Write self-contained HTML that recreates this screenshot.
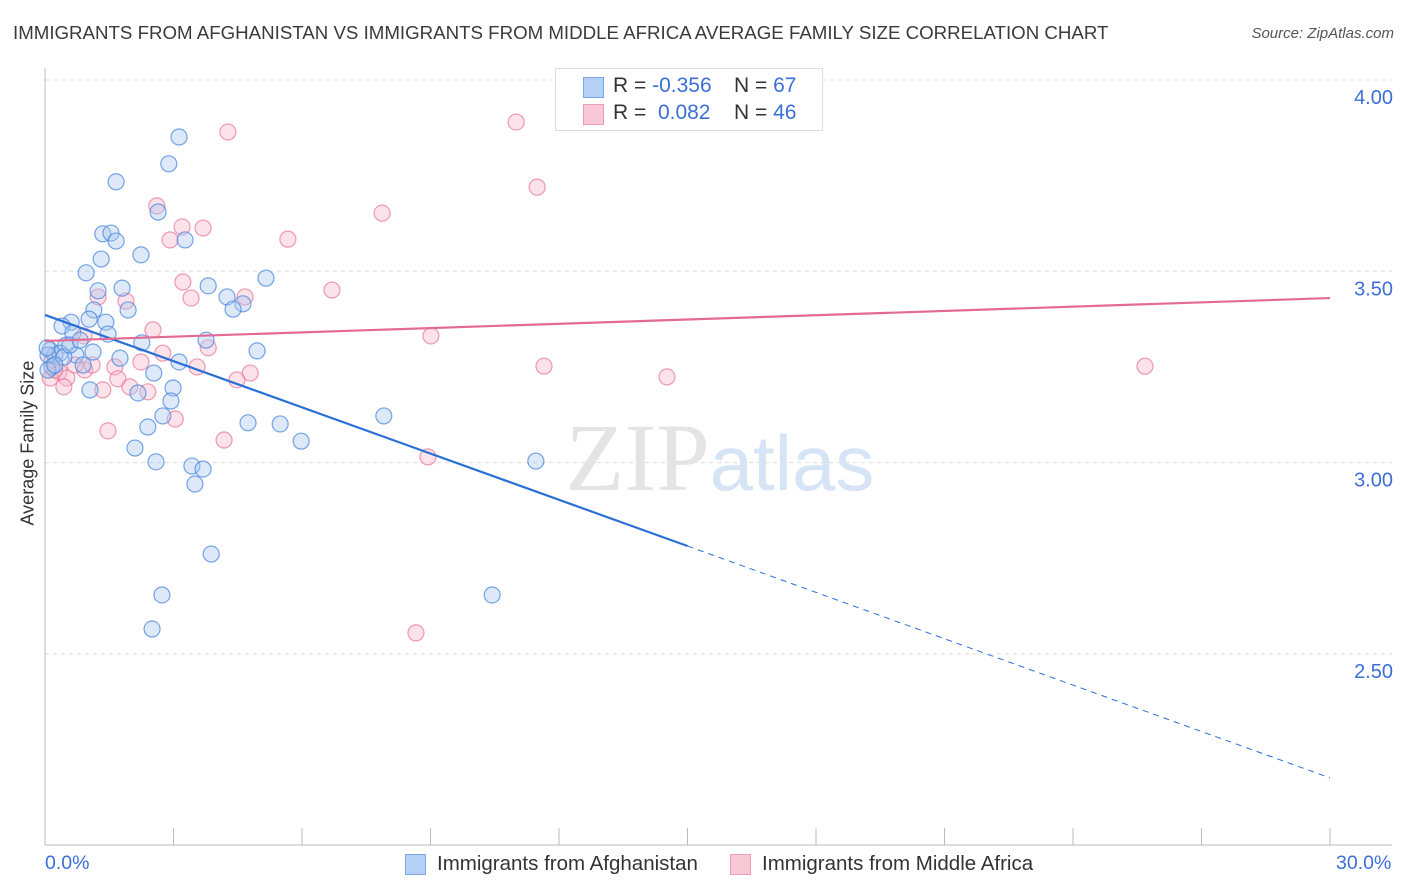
<!DOCTYPE html>
<html><head><meta charset="utf-8"><style>
body{margin:0;background:#fff;font-family:"Liberation Sans",sans-serif}
#wrap{position:relative;width:1406px;height:892px;overflow:hidden}
.t{position:absolute;white-space:nowrap}
</style></head><body><div id="wrap">
<div class="t" style="left:13px;top:22px;font-size:18.7px;color:#3a3a3a">IMMIGRANTS FROM AFGHANISTAN VS IMMIGRANTS FROM MIDDLE AFRICA AVERAGE FAMILY SIZE CORRELATION CHART</div>
<div class="t" style="right:12px;top:25px;font-size:15px;color:#555;font-style:italic">Source: ZipAtlas.com</div>
<svg id="svg" width="1406" height="892" style="position:absolute;left:0;top:0"></svg>
</div>
<script>
const blueX=[3.13,2.89,1.66,2.64,1.35,1.54,1.66,3.27,2.24,1.31,0.96,5.16,1.24,1.80,3.81,4.25,4.62,4.39,1.94,1.14,0.61,1.03,0.40,1.42,0.65,1.47,0.49,3.76,0.12,0.23,0.35,0.72,0.44,1.12,4.95,2.26,1.75,3.13,0.89,0.16,2.54,2.99,1.05,2.17,2.94,2.75,4.74,5.49,7.91,2.40,5.98,2.10,2.59,3.43,3.69,3.50,11.46,3.88,2.73,10.44,2.50,0.07,0.07,0.23,0.05,0.58,0.82];
const blueY=[3.851,3.781,3.734,3.655,3.598,3.600,3.579,3.582,3.543,3.532,3.496,3.482,3.449,3.456,3.462,3.433,3.415,3.401,3.399,3.399,3.367,3.375,3.357,3.367,3.339,3.336,3.307,3.320,3.294,3.281,3.286,3.281,3.276,3.289,3.292,3.313,3.273,3.263,3.255,3.250,3.234,3.195,3.190,3.182,3.161,3.122,3.104,3.101,3.122,3.093,3.056,3.038,3.002,2.991,2.983,2.944,3.004,2.761,2.654,2.654,2.565,3.281,3.242,3.255,3.300,3.307,3.320];
const pinkX=[4.27,11.00,11.49,2.61,7.87,3.20,3.69,2.92,5.67,3.22,6.70,1.24,3.41,4.67,1.89,2.52,0.91,9.01,3.81,2.75,2.24,11.65,3.55,1.63,14.52,25.68,4.79,4.48,1.70,0.33,0.51,0.12,0.44,1.98,1.35,2.40,3.04,1.47,4.18,8.94,8.66,0.23,0.70,0.93,1.10,0.16];
const pinkY=[3.864,3.890,3.720,3.671,3.652,3.616,3.613,3.582,3.584,3.472,3.451,3.433,3.430,3.433,3.422,3.347,3.331,3.331,3.300,3.286,3.263,3.252,3.250,3.250,3.224,3.252,3.234,3.216,3.219,3.237,3.221,3.221,3.198,3.198,3.190,3.185,3.114,3.083,3.059,3.015,2.555,3.242,3.255,3.242,3.255,3.268];
const blueTrend=[3.386,2.782,2.176]; // at x=0,15,30
const pinkTrend=[3.318,3.430]; // at x=0,30
const yTicks=[4.0,3.5,3.0,2.5];
const yTickLabels=["4.00","3.50","3.00","2.50"];
const xTicks=[3,6,9,12,15,18,21,24,27,30];
const sx=v=>45+v/30*1285;
const sy=v=>80+(4-v)*382.6;
const svg=document.getElementById('svg');
const NS='http://www.w3.org/2000/svg';
function mk(t,a){const e=document.createElementNS(NS,t);for(const k in a)e.setAttribute(k,a[k]);svg.appendChild(e);return e;}
yTicks.forEach((v,i)=>{
 const g=mk('line',{x1:45,x2:1392,y1:sy(v),y2:sy(v),stroke:'#ddd','stroke-dasharray':'4 4'});
 
 
 const t=mk('text',{x:1393,y:sy(v)+24,'text-anchor':'end','font-size':20,fill:'#3b6fd8','font-family':'Liberation Sans, sans-serif'});
 t.textContent=yTickLabels[i];
 
 
});
const ax=mk('line',{x1:45,x2:45,y1:68,y2:845,stroke:'#bbb'});


const bx=mk('line',{x1:45,x2:1392,y1:845,y2:845,stroke:'#bbb'});


xTicks.forEach(v=>{const l=mk('line',{x1:sx(v),x2:sx(v),y1:828,y2:845,stroke:'#bbb'});
 
 });
const wm=mk('text',{x:720,y:490,'text-anchor':'middle','font-size':96,fill:'#e4e4e4','font-family':'Liberation Serif, serif'});
wm.innerHTML='ZIP<tspan fill="#d6e4f5" font-family="Liberation Sans, sans-serif" font-size="78">atlas</tspan>';


function pts(X,Y,f,s,n){X.forEach((x,i)=>{const c=mk('circle',{cx:sx(x),cy:sy(Y[i]),r:8,fill:f,'fill-opacity':0.4,stroke:s,'stroke-opacity':0.75,'stroke-width':1.2});
 
 });}
pts(pinkX,pinkY,'#f7b6c8','#e8799b','middle-africa-point');
pts(blueX,blueY,'#a9c8f0','#4a86dc','afghanistan-point');
const bl=mk('line',{x1:sx(0),y1:sy(blueTrend[0]),x2:sx(15),y2:sy(blueTrend[1]),stroke:'#2a6fd6','stroke-width':2.2});


const bd=mk('line',{x1:sx(15),y1:sy(blueTrend[1]),x2:sx(30),y2:sy(blueTrend[2]),stroke:'#2a6fd6','stroke-width':1,'stroke-dasharray':'6 5'});


const pl=mk('line',{x1:sx(0),y1:sy(pinkTrend[0]),x2:sx(30),y2:sy(pinkTrend[1]),stroke:'#e36a93','stroke-width':2.2});


</script>
<div class="t" style="left:-42px;top:445px;font-size:18px;color:#333;transform:rotate(-90deg);width:140px;text-align:center">Average Family Size</div>
<div class="t" style="left:45px;top:852px;font-size:19.5px;color:#3b6fd8">0.0%</div>
<div class="t" style="left:1336px;top:852px;font-size:19.5px;color:#3b6fd8">30.0%</div>
<div style="position:absolute;left:555px;top:68px;width:266px;height:61px;border:1px solid #ddd;background:#fff;font-size:21px;color:#333">
 <div style="position:absolute;left:27px;top:8px;width:19px;height:19px;background:#b4d0f5;border:1px solid #7aa7e6"></div>
 <div class="t" style="left:57px;top:5px">R = <span style="color:#3b6fd8">-0.356</span></div>
 <div class="t" style="left:178px;top:5px">N = <span style="color:#3b6fd8">67</span></div>
 <div style="position:absolute;left:27px;top:35px;width:19px;height:19px;background:#f9c8d6;border:1px solid #eb9bb4"></div>
 <div class="t" style="left:57px;top:32px">R = &nbsp;<span style="color:#3b6fd8">0.082</span></div>
 <div class="t" style="left:178px;top:32px">N = <span style="color:#3b6fd8">46</span></div>
</div>
<div style="position:absolute;left:405px;top:852px;font-size:20.5px;color:#333">
 <div style="position:absolute;left:0;top:2px;width:19px;height:19px;background:#b4d0f5;border:1px solid #7aa7e6"></div>
 <div class="t" style="left:32px;top:0">Immigrants from Afghanistan</div></div>
<div style="position:absolute;left:730px;top:852px;font-size:20.5px;color:#333">
 <div style="position:absolute;left:0;top:2px;width:19px;height:19px;background:#f9c8d6;border:1px solid #eb9bb4"></div>
 <div class="t" style="left:32px;top:0">Immigrants from Middle Africa</div></div>
</body></html>
